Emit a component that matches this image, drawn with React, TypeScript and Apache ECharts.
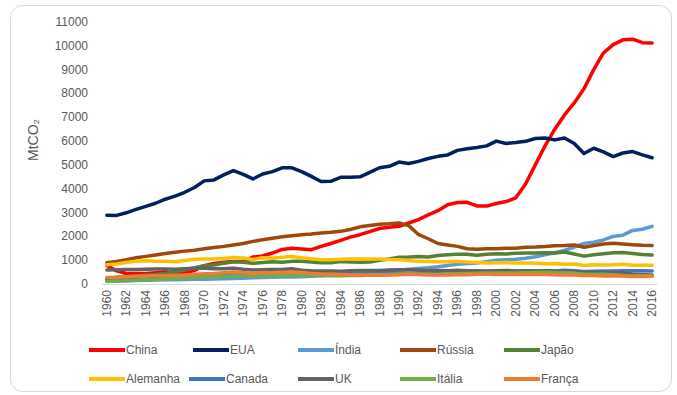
import React, { useEffect, useRef } from "react";
import * as echarts from "echarts";

const years = [
  "1960", "1961", "1962", "1963", "1964", "1965", "1966", "1967", "1968", "1969",
  "1970", "1971", "1972", "1973", "1974", "1975", "1976", "1977", "1978", "1979",
  "1980", "1981", "1982", "1983", "1984", "1985", "1986", "1987", "1988", "1989",
  "1990", "1991", "1992", "1993", "1994", "1995", "1996", "1997", "1998", "1999",
  "2000", "2001", "2002", "2003", "2004", "2005", "2006", "2007", "2008", "2009",
  "2010", "2011", "2012", "2013", "2014", "2015", "2016",
];

const china = [
  780, 550, 440, 436, 436, 475, 520, 433, 480, 570,
  770, 865, 910, 945, 960, 1130, 1180, 1300, 1450, 1500,
  1470, 1440, 1580, 1700, 1830, 1970, 2070, 2200, 2330, 2380,
  2420, 2560, 2700, 2900, 3080, 3330, 3420, 3430, 3280, 3270,
  3380, 3460, 3620, 4200, 5000, 5800, 6500, 7100, 7600, 8200,
  9000, 9700, 10050, 10250, 10280, 10130, 10120,
];
const eua = [
  2890, 2880, 2990, 3130, 3260, 3390, 3560, 3690, 3850, 4050,
  4330, 4370, 4580, 4760, 4600, 4410, 4620, 4720, 4880, 4880,
  4720, 4520, 4300, 4310, 4480, 4480, 4500, 4690, 4880, 4940,
  5120, 5060, 5150, 5270, 5360, 5420, 5610, 5680, 5730, 5800,
  6000, 5900, 5940, 5990, 6110, 6130, 6050, 6130, 5900, 5480,
  5700, 5550, 5350, 5500, 5560, 5420, 5300,
];
const india = [
  120, 130, 140, 150, 160, 170, 175, 180, 190, 195,
  200, 210, 220, 230, 240, 260, 270, 280, 290, 295,
  300, 330, 350, 380, 400, 430, 460, 500, 540, 570,
  580, 620, 650, 680, 720, 780, 830, 860, 880, 940,
  1000, 1020, 1040, 1080, 1140, 1230, 1310, 1410, 1550, 1700,
  1750, 1850, 2000, 2050, 2250, 2300, 2420,
];
const russia = [
  890, 950, 1020, 1100, 1160, 1220, 1280, 1330, 1380, 1420,
  1480, 1530, 1580, 1640, 1700, 1790, 1860, 1920, 1980, 2030,
  2070, 2100, 2140, 2170, 2210, 2290, 2400, 2460, 2510, 2530,
  2560, 2450, 2080, 1900, 1700, 1640, 1580, 1480, 1460, 1480,
  1480, 1500, 1500, 1540, 1550, 1570, 1610, 1620, 1640, 1540,
  1620, 1680, 1710, 1680, 1650, 1630, 1620,
];
const japao = [
  230, 280, 300, 340, 380, 400, 440, 510, 590, 680,
  770, 800, 870, 930, 910, 870, 900, 930, 910, 950,
  950, 920, 890, 890, 940, 920, 910, 920, 1000, 1050,
  1120, 1130, 1150, 1130, 1200, 1230, 1250, 1250, 1210, 1250,
  1270, 1260, 1290, 1300, 1300, 1310, 1300, 1340, 1260, 1170,
  1230, 1270, 1310, 1320, 1280, 1240, 1220,
];
const alemanha = [
  810, 840, 900, 960, 980, 960, 950, 930, 990, 1040,
  1050, 1050, 1070, 1110, 1090, 1030, 1100, 1080, 1120, 1150,
  1100, 1060, 1020, 1020, 1040, 1050, 1050, 1050, 1050, 1030,
  1020, 990, 950, 940, 930, 930, 950, 920, 910, 880,
  890, 900, 880, 880, 870, 850, 860, 830, 840, 780,
  810, 800, 810, 830, 790, 790, 790,
];
const canada = [
  190, 195, 200, 210, 220, 240, 250, 260, 280, 300,
  340, 350, 380, 390, 390, 400, 410, 420, 440, 450,
  450, 440, 410, 410, 420, 430, 420, 450, 470, 480,
  460, 450, 460, 460, 470, 480, 490, 500, 510, 520,
  540, 530, 540, 560, 560, 560, 550, 580, 560, 530,
  540, 550, 550, 560, 560, 560, 550,
];
const uk = [
  590, 600, 610, 610, 620, 630, 630, 620, 640, 660,
  660, 640, 640, 660, 620, 590, 600, 610, 610, 640,
  580, 560, 550, 550, 540, 560, 570, 570, 570, 590,
  600, 600, 590, 570, 570, 560, 580, 560, 560, 550,
  560, 570, 550, 560, 560, 560, 550, 540, 530, 470,
  490, 450, 470, 460, 420, 400, 380,
];
const italia = [
  110, 125, 140, 160, 175, 190, 210, 230, 250, 270,
  290, 300, 320, 340, 340, 330, 350, 350, 360, 370,
  370, 360, 360, 350, 350, 360, 360, 380, 390, 400,
  420, 420, 420, 410, 400, 430, 430, 440, 450, 460,
  460, 460, 460, 480, 490, 490, 480, 470, 460, 410,
  410, 410, 390, 360, 340, 350, 350,
];
const franca = [
  270, 280, 300, 330, 340, 350, 350, 370, 380, 400,
  430, 440, 470, 500, 480, 440, 480, 470, 490, 500,
  480, 440, 420, 410, 400, 390, 380, 370, 370, 380,
  390, 410, 400, 380, 380, 380, 390, 390, 410, 410,
  400, 400, 400, 400, 400, 400, 390, 380, 380, 360,
  360, 340, 350, 340, 310, 320, 330,
];

const seriesNames = ["China", "EUA", "Índia", "Rússia", "Japão", "Alemanha", "Canada", "UK", "Itália", "França"];
const seriesData = [china, eua, india, russia, japao, alemanha, canada, uk, italia, franca];
const seriesColors = ["#FF0000", "#002060", "#5B9BD5", "#9E480E", "#548235", "#FFC000", "#4472C4", "#636363", "#70AD47", "#ED7D31"];

const FONT = "'Liberation Sans', Arial, sans-serif";
const GRAY = "#595959";

export default function App() {
  const ref = useRef<HTMLDivElement>(null);
  useEffect(() => {
    document.body.style.margin = "0";
    const chart = echarts.init(ref.current!, null, { renderer: "svg" });
    const legendPos = [
      [89, 344], [193, 344], [298, 344], [400, 344], [504, 344],
      [89, 373], [189, 373], [298, 373], [400, 373], [504, 373],
    ];
    chart.setOption({
      animation: false,
      backgroundColor: "#ffffff",
      grid: { left: 102, right: 20, top: 22, bottom: 111, containLabel: false },
      xAxis: {
        type: "category",
        data: years,
        boundaryGap: true,
        axisLine: { show: true, lineStyle: { color: "#D9D9D9", width: 1 } },
        axisTick: { show: false },
        axisLabel: {
          interval: 1,
          rotate: 90,
          margin: 6,
          color: GRAY,
          fontSize: 12,
          fontFamily: FONT,
        },
        splitLine: { show: false },
      },
      yAxis: {
        type: "value",
        min: 0,
        max: 11000,
        interval: 1000,
        axisLine: { show: false },
        axisTick: { show: false },
        splitLine: { show: false },
        axisLabel: {
          margin: 14,
          color: GRAY,
          fontSize: 12,
          fontFamily: FONT,
          formatter: (v: number) => String(v),
        },
      },
      legend: seriesNames.map((n, i) => ({
        data: [n],
        left: legendPos[i][0],
        top: legendPos[i][1],
        icon: "rect",
        itemWidth: 36,
        itemHeight: 4,
        itemGap: 0,
        padding: 0,
        selectedMode: false,
        textStyle: { color: GRAY, fontSize: 12, fontFamily: FONT, padding: [0, 0, 0, -4] },
      })),
      series: seriesNames.map((n, i) => ({
        name: n,
        type: "line",
        data: seriesData[i],
        symbol: "none",
        showSymbol: false,
        color: seriesColors[i],
        itemStyle: { color: seriesColors[i] },
        lineStyle: { color: seriesColors[i], width: 3.5, join: "round", cap: "round" },
      })),
      graphic: [
        {
          type: "rect",
          z: -10,
          shape: { x: 10.5, y: 5.5, width: 661, height: 386, r: 12 },
          style: { fill: "none", stroke: "#D9D9D9", lineWidth: 1 },
        },
        {
          type: "text",
          x: 33,
          y: 140,
          rotation: Math.PI / 2,
          style: {
            text: "MtCO₂",
            fill: GRAY,
            fontSize: 14,
            fontFamily: FONT,
            textAlign: "center",
            textVerticalAlign: "middle",
          },
        },
      ],
    });
    return () => chart.dispose();
  }, []);
  return (
    <div
      ref={ref}
      style={{ position: "fixed", left: 0, top: 0, width: 677, height: 395, background: "#fff" }}
    />
  );
}
